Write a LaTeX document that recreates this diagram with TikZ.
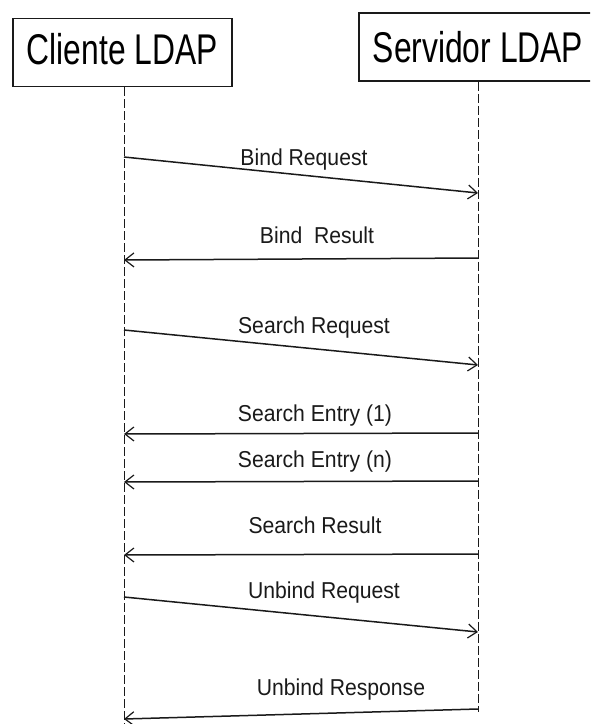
\documentclass[tikz,border=0pt]{standalone}
\usepackage{fontspec}
\setmainfont{Liberation Sans}
\newfontfamily\headfont[FakeStretch=0.74]{Liberation Sans}
\newfontfamily\msgfont[FakeStretch=0.92]{Liberation Sans}
\usetikzlibrary{arrows.meta,positioning}
\definecolor{seqInk}{HTML}{1A1A1A}

\tikzset{
  actor/.style={draw=seqInk, line width=1.6pt, anchor=west, inner xsep=14pt,
    minimum height=68pt, font=\headfont\fontsize{43}{43}\selectfont},
  lifeline/.style={seqInk, line width=0.9pt, dash pattern=on 9pt off 3pt},
  msg/.style={seqInk, line width=1.5pt, -{Straight Barb[length=9pt,width=14pt,line width=1.2pt]}},
  msglbl/.style={anchor=base, inner sep=0pt, text=seqInk, font=\msgfont\fontsize{23}{23}\selectfont}
}

\begin{document}
\begin{tikzpicture}[x=1pt, y=-1pt]
  \clip (0,0) rectangle (590,724);
  \fill[white] (0,0) rectangle (590,724);

  % participants
  \node[actor, text depth=8pt] (cli) at (12,52.5) {Cliente LDAP};
  \node[actor] (srv) at (358,47) {Servidor LDAP};

  % lifelines
  \coordinate (cliend) at (124,724);
  \coordinate (srvend) at (478,712);
  \draw[lifeline] (cli.south -| cliend) -- (cliend);
  \draw[lifeline] (srv.south -| srvend) -- (srvend);

  % client -> server
  \foreach \n/\yc/\ys/\lx/\ly/\txt in {
     breq/157/193/304/165/{Bind Request},
     sreq/330/365/314/333/{Search Request},
     ureq/597/632/324/598/{Unbind Request}}{
     \coordinate (c\n) at (124,\yc);
     \coordinate (s\n) at (478,\ys);
     \draw[msg] (c\n) -- (s\n);
     \node[msglbl] (l\n) at (\lx,\ly) {\txt};
  }

  % server -> client
  \foreach \n/\ys/\yc/\lx/\ly/\txt in {
     bres/258/260/317/243/{Bind\ \ Result},
     sone/433/434/315/421/{Search Entry (1)},
     senn/481/482/315/467/{Search Entry (n)},
     sres/554/555/315/533/{Search Result},
     ures/709/719/341/695/{Unbind Response}}{
     \coordinate (s\n) at (478,\ys);
     \coordinate (c\n) at (124,\yc);
     \draw[msg] (s\n) -- (c\n);
     \node[msglbl] (l\n) at (\lx,\ly) {\txt};
  }
\end{tikzpicture}
\end{document}
